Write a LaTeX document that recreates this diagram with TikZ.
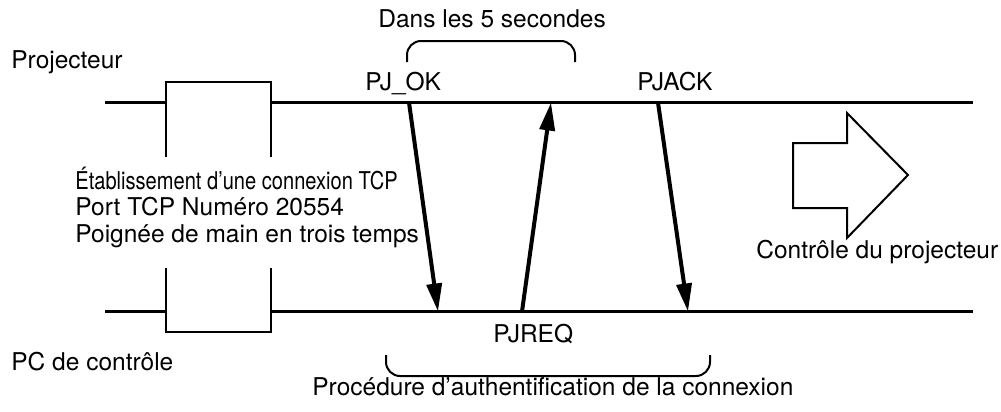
\documentclass[tikz,border=0pt]{standalone}
\usepackage{fontspec}
\setmainfont{TeX Gyre Heros}
\usetikzlibrary{arrows.meta}
\begin{document}
\begin{tikzpicture}[x=0.5pt,y=-0.5pt,
  lbl/.style={anchor=base west,inner sep=0pt,font=\fontsize{12.25}{14}\selectfont},
  tline/.style={line width=1.6pt},
  boxline/.style={line width=1pt},
  msg/.style={line width=2pt,-{Triangle[length=14pt,width=7.5pt]}},
  brace/.style={line width=1pt,rounded corners=7pt},
  bigarrow/.style={line width=1pt}]
\useasboundingbox (0,0) rectangle (1001,412);
\clip (0,0) rectangle (1001,412);
% coordinates
\coordinate (tl) at (105,102.5);
\coordinate (tr) at (973,102.5);
\coordinate (bl) at (105,311.5);
\coordinate (br) at (973,311.5);
\coordinate (bxl) at (166,102.5);
\coordinate (bxr) at (271,102.5);
\coordinate (bbl) at (166,311.5);
\coordinate (bbr) at (271,311.5);
% labels
\node[lbl] (proj) at (11,68) {Projecteur};
\node[lbl] (pc) at (11,370) {PC de contrôle};
\node[lbl] (dans) at (378,27) {Dans les 5 secondes};
\node[lbl] (pjok) at (365,90) {PJ\_OK};
\node[lbl] (pjack) at (637,90) {PJACK};
\node[lbl] (pjreq) at (493,342) {PJREQ};
\node[lbl] (proc) at (312,395) {Procédure d’authentification de la connexion};
\node[lbl] (ctrl) at (756,258) {Contrôle du projecteur};
\node[lbl] (etab) at (75,189) {\scalebox{0.82}[1]{Établissement d’une connexion TCP}};
\node[lbl] (port) at (75,215) {Port TCP Numéro 20554};
\node[lbl] (poig) at (75,242) {Poignée de main en trois temps};
% timelines
\draw[tline] (tl) -- (bxl);
\draw[tline] (bxr) -- (tr);
\draw[tline] (bl) -- (bbl);
\draw[tline] (bbr) -- (br);
% TCP box halves
\draw[boxline] (166,157) -- (166,82) -- (271,82) -- (271,157);
\draw[boxline] (166,268) -- (166,332) -- (271,332) -- (271,268);
% messages
\coordinate (a1s) at (409,102.5); \coordinate (a1e) at (438,311.5);
\coordinate (a2s) at (522,311.5); \coordinate (a2e) at (551,102.5);
\coordinate (a3s) at (658,102.5); \coordinate (a3e) at (688,311.5);
\draw[msg] (a1s) -- (a1e);
\draw[msg] (a2s) -- (a2e);
\draw[msg] (a3s) -- (a3e);
% braces
\draw[brace] (407,62) |- (575,41) -- (575,62);
\draw[brace] (386,355) |- (710,376) -- (710,355);
% big arrow
\draw[bigarrow] (793,143) -- (847,143) -- (847,113) -- (908,175) -- (847,238) -- (847,208) -- (793,208) -- cycle;
\end{tikzpicture}
\end{document}
